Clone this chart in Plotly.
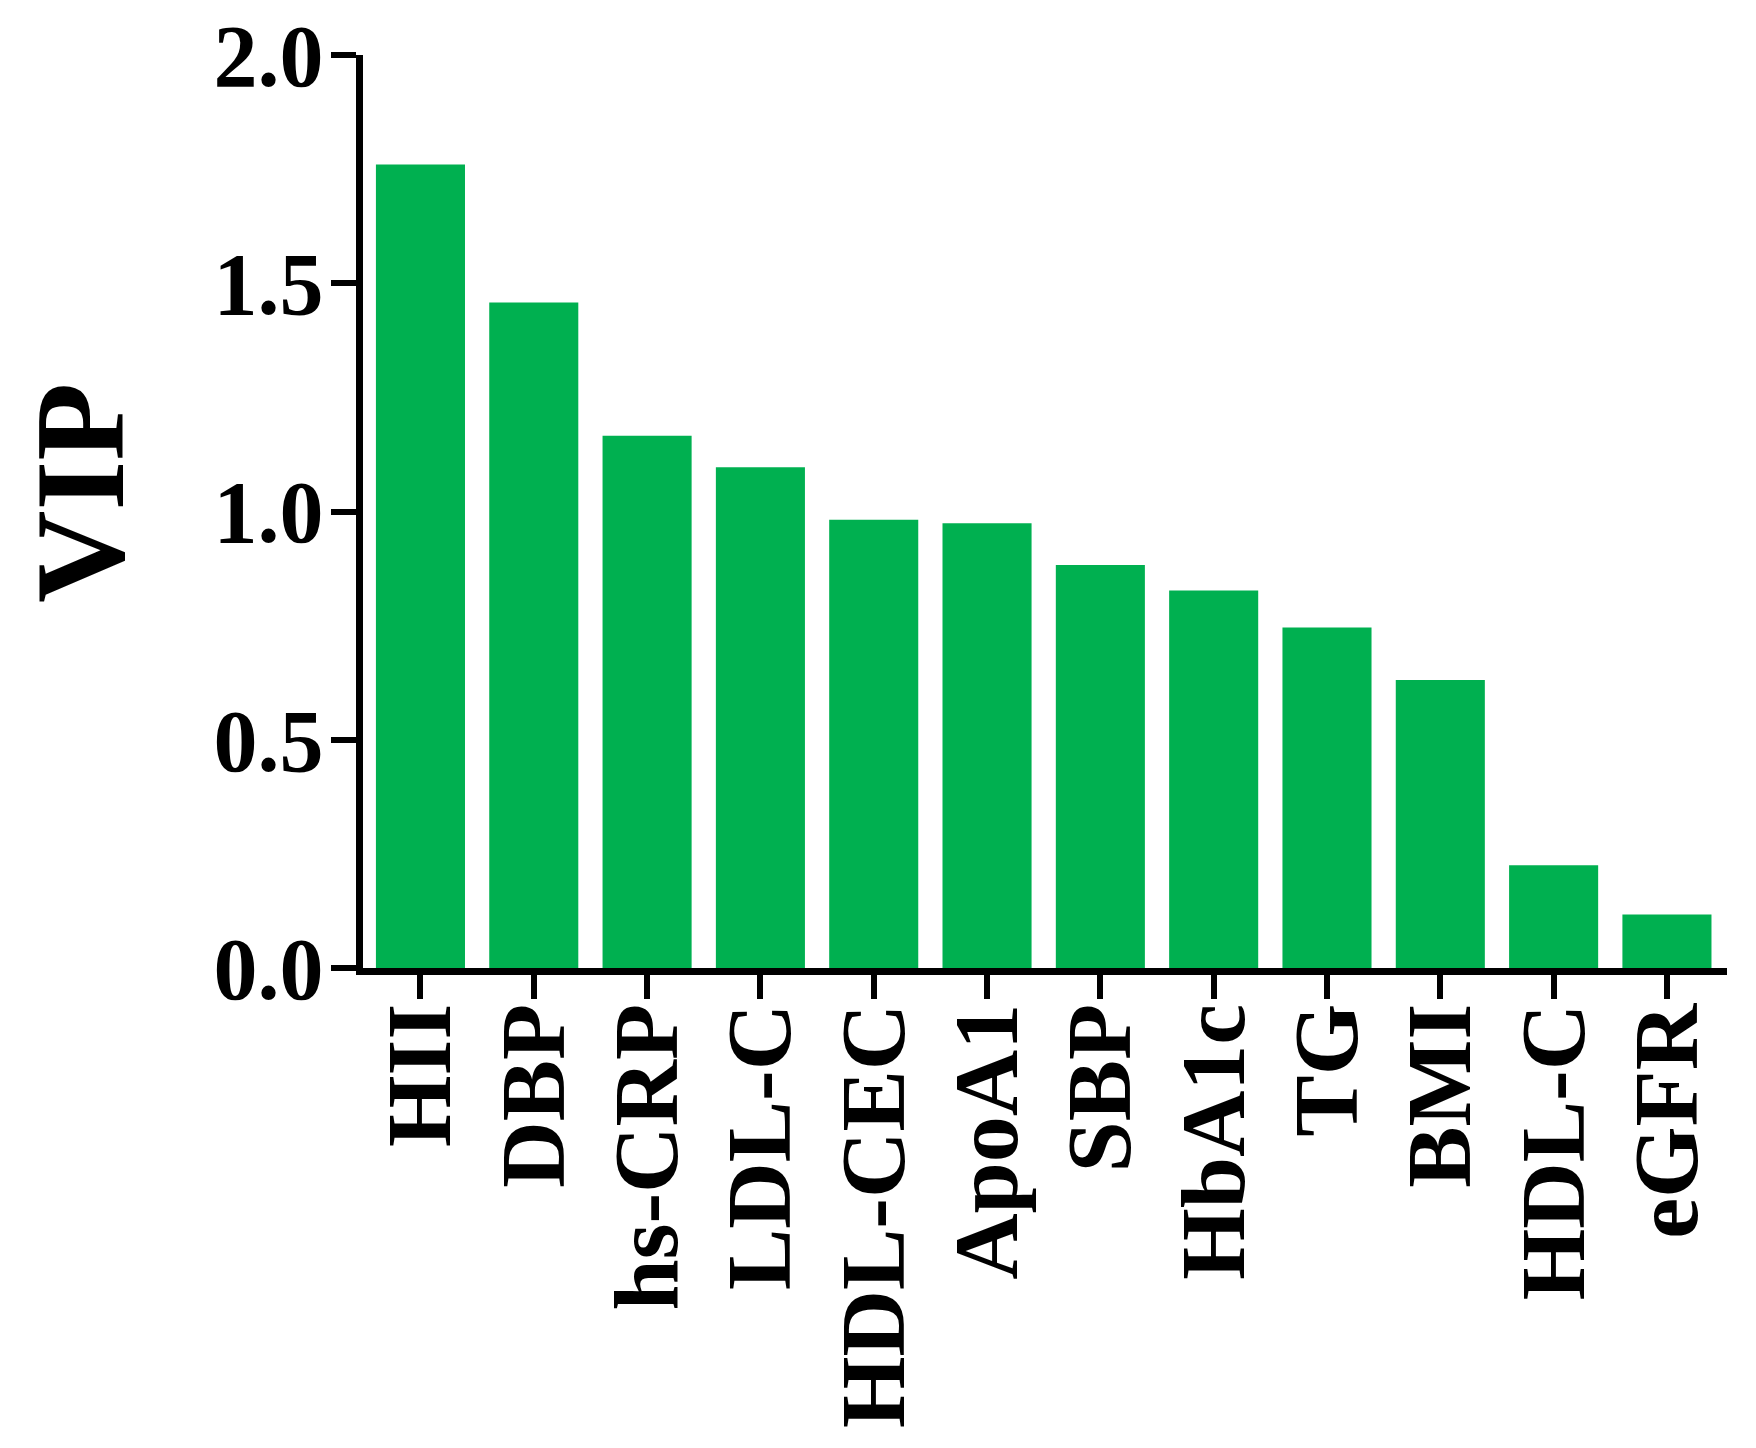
import plotly.graph_objects as go

categories = ["HII", "DBP", "hs-CRP", "LDL-C", "HDL-CEC", "ApoA1", "SBP", "HbA1c", "TG", "BMI", "HDL-C", "eGFR"]
vip_values = [1.76, 1.458, 1.166, 1.097, 0.982, 0.974, 0.883, 0.827, 0.746, 0.631, 0.225, 0.117]
y_ticks = [0.0, 0.5, 1.0, 1.5, 2.0]
y_tick_labels = ["0.0", "0.5", "1.0", "1.5", "2.0"]

FONT = "Liberation Serif"

fig = go.Figure(go.Bar(
    x=categories, y=vip_values,
    marker=dict(color="#00B050", line=dict(width=0)),
))

fig.update_layout(
    width=1756, height=1448,
    margin=dict(l=355, r=37, t=47, b=488),
    paper_bgcolor="white", plot_bgcolor="white",
    bargap=0.214,
    showlegend=False,
    font=dict(family=FONT, color="black"),
    annotations=[dict(
        text="<b>VIP</b>", xref="paper", yref="paper", x=-0.207, y=0.52,
        xanchor="center", yanchor="middle", textangle=-90, showarrow=False,
        font=dict(family=FONT, size=128, color="black"),
    )],
)

fig.update_xaxes(
    range=[-0.507, 11.53],
    showline=True, linecolor="black", linewidth=7,
    ticks="outside", ticklen=24, tickwidth=6, tickcolor="black",
    tickangle=-90,
    tickfont=dict(family=FONT, size=92, color="black", weight="bold"),
    showgrid=False, zeroline=False,
    ticklabelstandoff=-32,
    ticklabeloverflow="allow",
    automargin=False,
)

fig.update_yaxes(
    range=[0, 2.0],
    tickvals=y_ticks, ticktext=y_tick_labels,
    showline=True, linecolor="black", linewidth=7,
    ticks="outside", ticklen=25, tickwidth=6, tickcolor="black",
    tickfont=dict(family=FONT, size=88, color="black", weight="bold"),
    showgrid=False, zeroline=False,
    ticklabelstandoff=-10,
    ticklabeloverflow="allow",
    automargin=False,
)

fig.write_html("out.html")
